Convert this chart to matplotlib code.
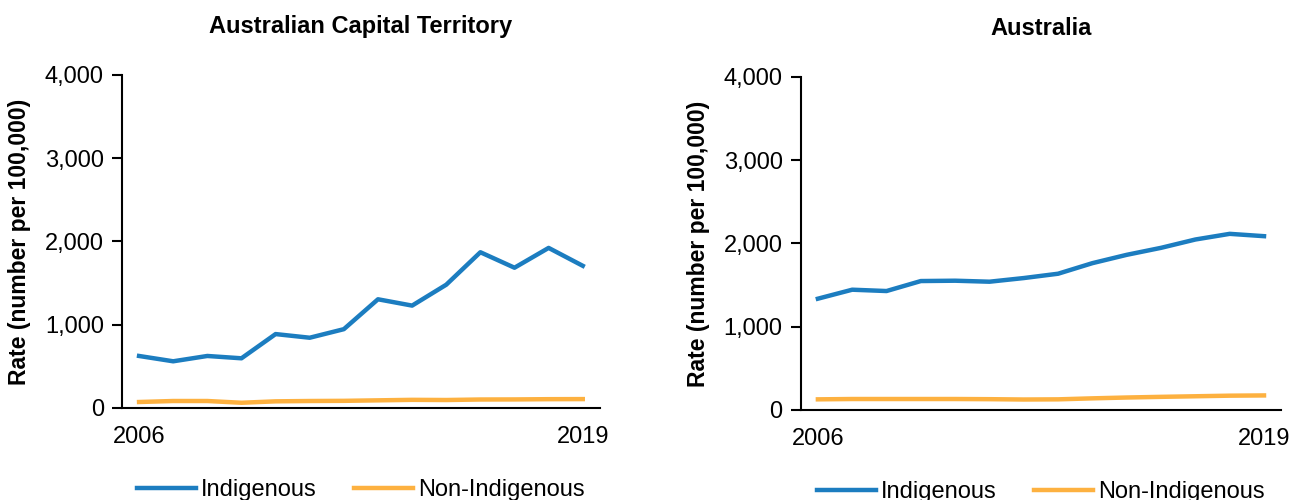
import numpy as np
import matplotlib
matplotlib.use("Agg")
import matplotlib.pyplot as plt

plt.rcParams['font.family'] = ['Liberation Sans', 'DejaVu Sans']

years = list(range(2006, 2020))

act_indig = [625, 561, 625, 597, 888, 844, 947, 1306, 1230, 1481, 1871, 1685, 1923, 1708]
act_non = [72, 84, 84, 63, 80, 84, 86, 92, 98, 96, 102, 103, 106, 107]

aus_indig = [1337, 1445, 1429, 1549, 1553, 1541, 1585, 1637, 1764, 1864, 1948, 2048, 2116, 2088]
aus_non = [128, 132, 132, 132, 132, 130, 126, 128, 140, 150, 158, 165, 172, 175]

titles = ['Australian Capital Territory', 'Australia']
blue = '#1c7dc0'
orange = '#fdb140'

fig = plt.figure(figsize=(13.02, 5.0), dpi=100)
ax1 = fig.add_axes([0.0937, 0.184, 0.367, 0.666])
ax2 = fig.add_axes([0.615, 0.180, 0.369, 0.666])

panels = [(ax1, act_indig, act_non), (ax2, aus_indig, aus_non)]
for i, (ax, ind, non) in enumerate(panels):
    l1, = ax.plot(years, ind, color=blue, lw=3.2, label='Indigenous')
    l2, = ax.plot(years, non, color=orange, lw=3.2, label='Non-Indigenous')
    ax.set_xlim(2005.5, 2019.5)
    ax.set_ylim(0, 4000)
    ax.set_yticks([0, 1000, 2000, 3000, 4000])
    ax.set_yticklabels(['0', '1,000', '2,000', '3,000', '4,000'])
    ax.set_xticks([2006, 2019])
    ax.tick_params(axis='x', length=0, labelsize=17, pad=13)
    ax.tick_params(axis='y', length=7, width=1.5, labelsize=17, direction='out', pad=6)
    for s in ['top', 'right']:
        ax.spines[s].set_visible(False)
    for s in ['left', 'bottom']:
        ax.spines[s].set_linewidth(1.5)
    ax.set_ylabel('Rate (number per 100,000)', fontsize=16.5, fontweight='bold', labelpad=10)
    ax.set_title(titles[i], fontsize=17, fontweight='bold', pad=30)
    ax.legend(handles=[l1, l2], loc='upper center', bbox_to_anchor=(0.5, -0.15),
              ncol=2, frameon=False, fontsize=17, handlelength=2.5,
              columnspacing=1.6, handletextpad=0.2)

fig.savefig('out.png', dpi=100)
